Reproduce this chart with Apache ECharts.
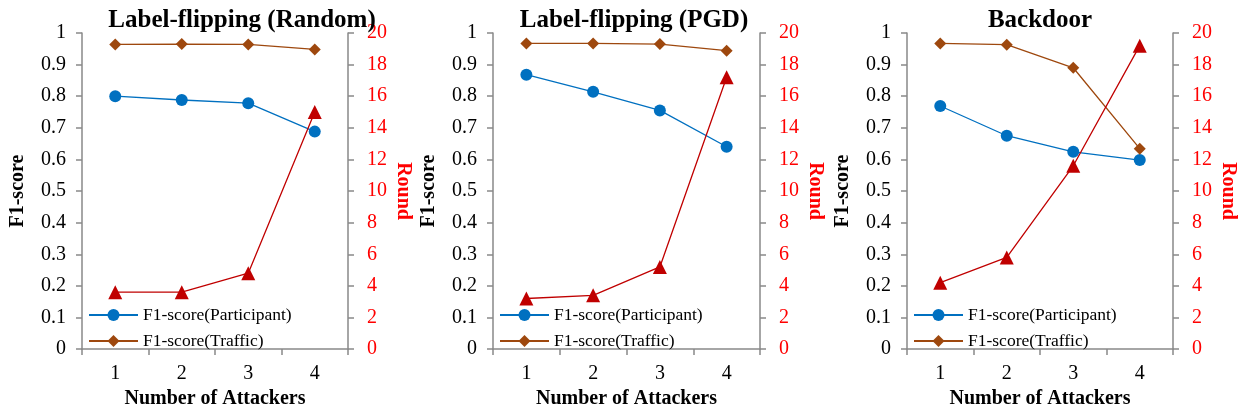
<!DOCTYPE html>
<html><head><meta charset="utf-8">
<script src="https://cdn.jsdelivr.net/npm/echarts@6/dist/echarts.min.js"></script>
<style>html,body{margin:0;padding:0;background:#fff}#c{width:1239px;height:414px}</style>
</head><body><div id="c"></div>
<script>
const categories = ['1', '2', '3', '4'];
const titles = ['Label-flipping (Random)', 'Label-flipping (PGD)', 'Backdoor'];
const participantRandom = [0.800, 0.788, 0.778, 0.688];
const trafficRandom = [0.964, 0.965, 0.964, 0.948];
const roundRandom = [3.6, 3.6, 4.8, 15.0];
const participantPGD = [0.868, 0.814, 0.755, 0.640];
const trafficPGD = [0.967, 0.967, 0.965, 0.944];
const roundPGD = [3.2, 3.4, 5.2, 17.2];
const participantBackdoor = [0.769, 0.675, 0.624, 0.598];
const trafficBackdoor = [0.967, 0.963, 0.890, 0.634];
const roundBackdoor = [4.2, 5.8, 11.6, 19.2];

const panels = [
  {p: participantRandom, t: trafficRandom, r: roundRandom},
  {p: participantPGD, t: trafficPGD, r: roundPGD},
  {p: participantBackdoor, t: trafficBackdoor, r: roundBackdoor}
];
const gridLefts = [82, 493, 907];
const gridRights = [348, 760, 1173];
const titleCenters = [242, 634, 1040];
const W = 1239;
const FONT = 'Liberation Serif';
const axisGray = '#898989';

const option = {
  backgroundColor: '#fff',
  animation: false,
  title: [], grid: [], xAxis: [], yAxis: [], series: [], legend: []
};

panels.forEach((d, i) => {
  option.title.push({
    text: titles[i], left: titleCenters[i], top: 8, textAlign: 'center', padding: 0,
    textStyle: {fontFamily: FONT, fontSize: 25, fontWeight: 'bold', color: '#000'}
  });
  option.grid.push({left: gridLefts[i], right: W - gridRights[i], top: 33, bottom: 61, containLabel: false});
  option.xAxis.push({
    type: 'category', gridIndex: i, data: categories, boundaryGap: true,
    name: 'Number of Attackers', nameLocation: 'middle', nameGap: 37,
    nameTextStyle: {fontFamily: FONT, fontSize: 20, fontWeight: 'bold', color: '#000'},
    axisLine: {lineStyle: {color: axisGray, width: 1.5}},
    axisTick: {show: true, length: 6, lineStyle: {color: axisGray, width: 1.5}},
    axisLabel: {fontFamily: FONT, fontSize: 20, color: '#000', margin: 15}
  });
  option.yAxis.push({
    type: 'value', gridIndex: i, position: 'left', min: 0, max: 1, interval: 0.1,
    name: 'F1-score', nameLocation: 'middle', nameGap: 54, nameRotate: 90,
    nameTextStyle: {fontFamily: FONT, fontSize: 20, fontWeight: 'bold', color: '#000'},
    axisLine: {show: true, lineStyle: {color: axisGray, width: 1.5}},
    axisTick: {show: true, length: 6, lineStyle: {color: axisGray, width: 1.5}},
    splitLine: {show: false},
    axisLabel: {fontFamily: FONT, fontSize: 20, color: '#000', margin: 16,
      formatter: v => (Math.round(v * 10) / 10).toString()}
  });
  option.yAxis.push({
    type: 'value', gridIndex: i, position: 'right', min: 0, max: 20, interval: 2,
    name: 'Round', nameLocation: 'middle', nameGap: 45, nameRotate: -90,
    nameTextStyle: {fontFamily: FONT, fontSize: 20, fontWeight: 'bold', color: '#FF0000'},
    axisLine: {show: true, lineStyle: {color: axisGray, width: 1.5}},
    axisTick: {show: true, length: 6, lineStyle: {color: axisGray, width: 1.5}},
    splitLine: {show: false},
    axisLabel: {fontFamily: FONT, fontSize: 20, color: '#FF0000', margin: 19}
  });
  const pName = 'F1-score(Participant)';
  const tName = 'F1-score(Traffic)';
  option.series.push({
    name: pName, type: 'line', xAxisIndex: i, yAxisIndex: 2 * i, data: d.p,
    symbol: 'circle', symbolSize: 12,
    lineStyle: {color: '#0070C0', width: 1.3}, itemStyle: {color: '#0070C0'}
  });
  option.series.push({
    name: tName, type: 'line', xAxisIndex: i, yAxisIndex: 2 * i, data: d.t,
    symbol: 'diamond', symbolSize: 12,
    lineStyle: {color: '#9E480E', width: 1.3}, itemStyle: {color: '#9E480E'}
  });
  option.series.push({
    name: 'Round', type: 'line', xAxisIndex: i, yAxisIndex: 2 * i + 1, data: d.r,
    symbol: 'triangle', symbolSize: 14,
    lineStyle: {color: '#C00000', width: 1.3}, itemStyle: {color: '#C00000'}
  });
  option.legend.push({
    data: [pName, tName], orient: 'vertical', left: gridLefts[i] + 6, top: 306, padding: 0,
    itemWidth: 49, itemHeight: 15, itemGap: 8,
    textStyle: {fontFamily: FONT, fontSize: 17.5, color: '#000'}
  });
});

const chart = echarts.init(document.getElementById('c'), null, {renderer: 'canvas'});
chart.setOption(option);
</script>
</body></html>
